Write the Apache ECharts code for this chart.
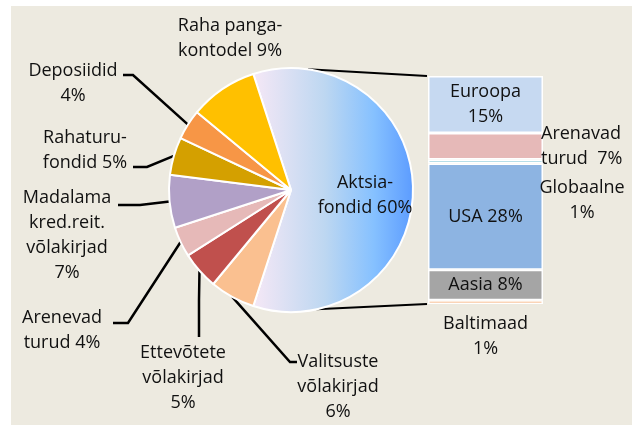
<!DOCTYPE html>
<html>
<head>
<meta charset="utf-8">
<title>Fondi jaotus</title>
<script src="https://cdn.jsdelivr.net/npm/echarts@6/dist/echarts.min.js"></script>
<style>
html, body {
	margin: 0;
	padding: 0;
	background: #ffffff;
}
#chart {
	width: 632px;
	height: 425px;
}
</style>
</head>
<body>
<div id="chart"></div>
<script type="text/javascript">

    // pie: clockwise from the big slice, "\n" at the end means the % goes on its own line
    var pieNames = ['Aktsia-\nfondid', 'Valitsuste\nvõlakirjad\n', 'Ettevõtete\nvõlakirjad\n', 'Arenevad\nturud',
                    'Madalama\nkred.reit.\nvõlakirjad\n', 'Rahaturu-\nfondid', 'Deposiidid\n', 'Raha panga-\nkontodel'];
    var pieValues = [60, 6, 5, 4, 7, 5, 4, 9];

    // bar: top to bottom
    var barNames = ['Euroopa\n', 'Arenavad\nturud ', 'Globaalne\n', 'USA', 'Aasia', 'Baltimaad\n'];
    var barValues = [15, 7, 1, 28, 8, 1];

    var pieColors = [null, '#FAC090', '#C0504D', '#E6B9B8', '#B1A0C7', '#D4A000', '#F79646', '#FFC000'];
    var barColors = ['#C6D9F1', '#E6B9B8', '#B7DEE8', '#8DB4E2', '#A5A5A5', '#F5A96F'];

    var cx = 291, cy = 190, R = 122;
    var gridLeft = 428, gridTop = 76, gridW = 115, gridH = 228;

    // where each pie label sits, and the elbow / end of its leader line
    var pieLayout = [
        {x: 365, y: 195},
        {x: 338, y: 387, line: [[290, 362], [297, 362]]},
        {x: 183, y: 378, line: [[199, 300], [199, 337]]},
        {x: 62, y: 330, line: [[128, 323], [113, 323]]},
        {x: 67, y: 235, line: [[140, 205], [118, 205]]},
        {x: 85, y: 150, line: [[147, 167], [133, 167]]},
        {x: 73, y: 83, line: [[133, 75], [123, 75]]},
        {x: 230, y: 38}
    ];

    function pct(name, v) {
        var sep = name.charAt(name.length - 1) == '\n' ? '' : ' ';
        return name + sep + v + '%';
    }

    var font = {fontFamily: 'Open Sans', fontSize: 18, lineHeight: 25, color: '#111111'};

    var pieData = [];
    for (var i = 0; i < pieNames.length; i++) {
        var item = {name: pieNames[i], value: pieValues[i], itemStyle: {}};
        if (i == 0) {
            item.itemStyle.color = new echarts.graphic.LinearGradient(0, 0, 1, 0, [
                {offset: 0, color: '#F6E8F6'},
                {offset: 0.45, color: '#BDD7F1'},
                {offset: 0.75, color: '#86C1FF'},
                {offset: 1, color: '#5B9BFF'}
            ]);
        } else {
            item.itemStyle.color = pieColors[i];
        }
        if (!pieLayout[i].line) item.labelLine = {show: false};
        pieData.push(item);
    }

    // stacked bar, bottom first
    var barSeries = [];
    for (var j = barNames.length - 1; j >= 0; j--) {
        var lab = {show: true, position: 'inside', formatter: pct(barNames[j], barValues[j]), align: 'center'};
        if (j == 1) { lab.position = 'right'; lab.distance = -2; lab.align = 'left'; }
        if (j == 2) { lab.position = [154, 41]; lab.verticalAlign = 'middle'; }
        if (j == 5) { lab.position = 'bottom'; lab.distance = 7; }
        for (var k in font) lab[k] = font[k];
        barSeries.push({
            type: 'bar',
            stack: 'muu',
            barWidth: '100%',
            data: [barValues[j]],
            itemStyle: {color: barColors[j], borderColor: '#ffffff', borderWidth: 1.5},
            label: lab,
            silent: true
        });
    }

    var pieLabel = {show: true, position: 'outside', align: 'center',
        formatter: function (p) { return pct(p.name, p.value); }};
    for (var k in font) pieLabel[k] = font[k];

    var option = {
        backgroundColor: '#ffffff',
        animation: false,
        grid: {left: gridLeft, top: gridTop, width: gridW, height: gridH},
        xAxis: {type: 'category', data: ['muu'], show: false},
        yAxis: {type: 'value', min: 0, max: 60, show: false},
        graphic: [{
            type: 'rect', z: -10,
            shape: {x: 11, y: 6, width: 621, height: 419},
            style: {fill: '#EDEAE0'}
        }],
        series: [{
            type: 'pie',
            center: [cx, cy],
            radius: R,
            startAngle: 108,
            clockwise: true,
            data: pieData,
            itemStyle: {borderColor: '#ffffff', borderWidth: 2},
            label: pieLabel,
            labelLine: {show: true, lineStyle: {color: '#000000', width: 2.5}},
            labelLayout: function (params) {
                var L = pieLayout[params.dataIndex];
                var res = {x: L.x, y: L.y, align: 'center', verticalAlign: 'middle'};
                if (L.line) res.labelLinePoints = [params.labelLinePoints[0], L.line[0], L.line[1]];
                return res;
            },
            silent: true
        }].concat(barSeries)
    };

    var chart = echarts.init(document.getElementById('chart'));
    chart.setOption(option);

    // connector lines from the big slice to the bar
    var topPx = chart.convertToPixel({gridIndex: 0}, [0, 60]);
    var botPx = chart.convertToPixel({gridIndex: 0}, [0, 0]);
    var a1 = 82 * Math.PI / 180, a2 = -78 * Math.PI / 180;
    chart.setOption({
        graphic: [{
            type: 'rect', z: -10,
            shape: {x: 11, y: 6, width: 621, height: 419},
            style: {fill: '#EDEAE0'}
        }, {
            type: 'line', z: 1,
            shape: {x1: cx + R * Math.cos(a1), y1: cy - R * Math.sin(a1), x2: gridLeft - 1, y2: topPx[1]},
            style: {stroke: '#000000', lineWidth: 2}
        }, {
            type: 'line', z: 1,
            shape: {x1: cx + R * Math.cos(a2), y1: cy - R * Math.sin(a2), x2: gridLeft - 1, y2: botPx[1]},
            style: {stroke: '#000000', lineWidth: 2}
        }]
    });
</script>
</body>
</html>
